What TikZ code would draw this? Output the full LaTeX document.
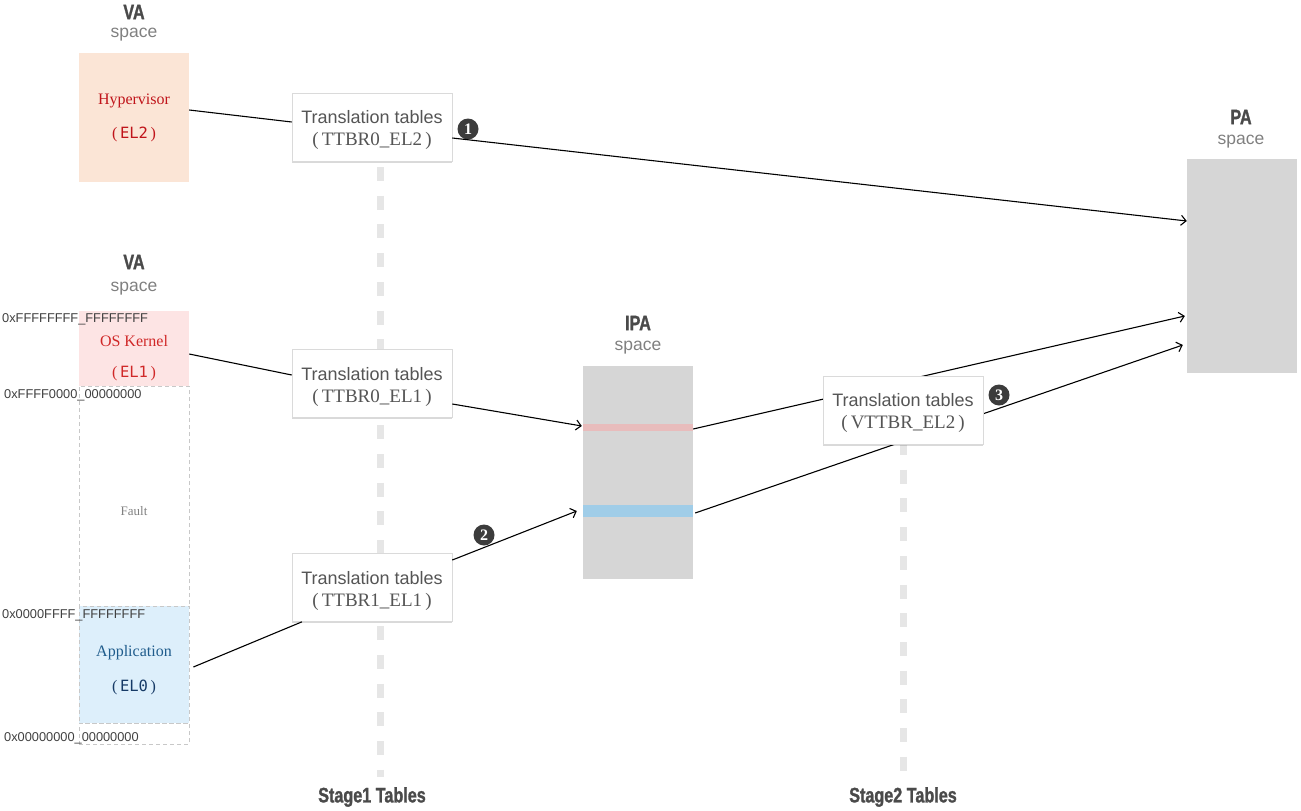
\documentclass[tikz,border=0pt]{standalone}
\usepackage{fontspec}
\setmainfont{Liberation Serif}
\setsansfont{Liberation Sans}
\setmonofont{DejaVu Sans Mono}
\newfontfamily\headfont[FakeStretch=0.77,BoldFeatures={FakeBold=1.3}]{Liberation Sans}
\usetikzlibrary{arrows.meta,shadows,backgrounds,calc}
\definecolor{headgray}{HTML}{4A4A4A}
\definecolor{spacegray}{HTML}{808080}
\definecolor{ttgray}{HTML}{555555}
\definecolor{peach}{HTML}{FBE5D6}
\definecolor{kernpink}{HTML}{FDE4E4}
\definecolor{appblue}{HTML}{DDEFFB}
\definecolor{memgray}{HTML}{D6D6D6}
\definecolor{bandpink}{HTML}{E8BCBC}
\definecolor{bandblue}{HTML}{A0CDE8}
\definecolor{hypred}{HTML}{C0141A}
\definecolor{kernred}{HTML}{D02828}
\definecolor{appbluetext}{HTML}{1F5C8C}
\definecolor{navy}{HTML}{163A66}
\definecolor{stagegray}{HTML}{E6E6E6}
\definecolor{dashgray}{HTML}{C8C8C8}
\definecolor{boxborder}{HTML}{DADADA}
\definecolor{addrgray}{HTML}{404040}
\definecolor{numgray}{HTML}{3C3C3C}
\begin{document}
\begin{tikzpicture}[x=1pt,y=-1pt,
  heading/.style={font=\headfont\bfseries\fontsize{21}{21}\selectfont, text=headgray, inner sep=0},
  spacelbl/.style={font=\sffamily\fontsize{17.5}{18}\selectfont, text=spacegray, inner sep=0},
  region/.style={minimum width=110pt, inner sep=0, draw=none},
  dashedregion/.style={region, draw=dashgray, line width=0.8pt, dash pattern=on 4pt off 3pt},
  lbl/.style={font=\rmfamily\fontsize{16}{18}\selectfont, inner sep=0},
  ellbl/.style={font=\rmfamily\fontsize{16}{18}\selectfont, inner sep=0},
  addr/.style={font=\sffamily\fontsize{12.8}{14}\selectfont, text=addrgray, inner sep=0, anchor=west},
  ttbox/.style={draw=boxborder, fill=white, line width=0.6pt, minimum width=160pt,
     minimum height=68pt, inner sep=0,
     drop shadow={shadow xshift=0.3pt, shadow yshift=-1.5pt, opacity=0.15, fill=black}},
  tttext/.style={inner sep=0, align=center, text=ttgray, font=\fontsize{18}{22}\selectfont},
  stageline/.style={draw=stagegray, line width=7pt, dash pattern=on 14pt off 14.7pt},
  link/.style={draw=black, line width=1.1pt},
  arr/.style={link, -{Straight Barb[length=5pt,width=10pt]}},
  numc/.style={circle, fill=numgray, text=white, inner sep=0, minimum size=21pt,
     font=\rmfamily\bfseries\fontsize{16}{16}\selectfont}
]
\useasboundingbox (0,0) rectangle (1301,811);

% ---------- VA space (EL2) ----------
\node[heading] (va1) at (134,12) {VA};
\node[spacelbl] (va1s) at (134,35) {space};
\node[region, fill=peach, minimum height=129pt] (hyp) at (134,117.5) {};
\node[lbl, text=hypred] (hyplbl) at (134,101) {Hypervisor};
\node[ellbl, text=hypred] (hypel) at (134,134) {(\,{\ttfamily\fontsize{15.5}{18}\selectfont EL2}\,)};

% ---------- VA space (EL1/EL0) ----------
\node[heading] (va2) at (134,262) {VA};
\node[spacelbl] (va2s) at (134,289) {space};
\node[dashedregion, minimum height=220pt] (fault) at (134,496) {};
\node[region, fill=kernpink, minimum height=75pt] (kern) at (134,348.5) {};
\node[dashedregion, fill=appblue, minimum height=117pt] (app) at (134,664.5) {};
\node[dashedregion, minimum height=21pt] (bottom) at (134,733.5) {};
\node[lbl, text=kernred] (kernlbl) at (134,341) {OS Kernel};
\node[ellbl, text=kernred] (kernel) at (134,374) {(\,{\ttfamily\fontsize{15.5}{18}\selectfont EL1}\,)};
\node[lbl, text=spacegray, font=\rmfamily\fontsize{13}{15}\selectfont] (faultlbl) at (134,511) {Fault};
\node[lbl, text=appbluetext] (applbl) at (134,653) {Application};
\node[ellbl, text=navy] (appel) at (134,687) {(\,{\ttfamily\fontsize{15.5}{18}\selectfont EL0}\,)};

\node[addr] (a1) at (2,319) {0xFFFFFFFF\_FFFFFFFF};
\node[addr] (a2) at (4,395) {0xFFFF0000\_00000000};
\node[addr] (a3) at (2,615) {0x0000FFFF\_FFFFFFFF};
\node[addr] (a4) at (4,738) {0x00000000\_00000000};

% ---------- IPA space ----------
\node[heading] (ipa) at (638,323) {IPA};
\node[spacelbl] (ipas) at (638,348) {space};
\node[region, fill=memgray, minimum height=213pt] (ipabox) at (638,472.5) {};
\node[region, fill=bandpink, minimum height=7pt] (pink) at (638,427.5) {};
\node[region, fill=bandblue, minimum height=12pt] (blue) at (638,511) {};

% ---------- PA space ----------
\node[heading] (pah) at (1241,117) {PA};
\node[spacelbl] (pas) at (1241,142) {space};
\node[region, fill=memgray, minimum height=214pt] (pa) at (1242,266) {};

% ---------- translation tables ----------
\node[ttbox] (tt0) at (372,127) {};
\node[ttbox] (tt1) at (372,383.5) {};
\node[ttbox] (tt2) at (372,587.5) {};
\node[ttbox] (vt) at (903,410) {};
\node[tttext] (tt0t) at (372,130) {{\sffamily Translation tables}\\{\rmfamily\fontsize{19}{22}\selectfont (\,TTBR0\_EL2\,)}};
\node[tttext] (tt1t) at (372,386.5) {{\sffamily Translation tables}\\{\rmfamily\fontsize{19}{22}\selectfont (\,TTBR0\_EL1\,)}};
\node[tttext] (tt2t) at (372,590.5) {{\sffamily Translation tables}\\{\rmfamily\fontsize{19}{22}\selectfont (\,TTBR1\_EL1\,)}};
\node[tttext] (vtt) at (903,413) {{\sffamily Translation tables}\\{\rmfamily\fontsize{19}{22}\selectfont (\,VTTBR\_EL2\,)}};

% ---------- stage labels ----------
\node[heading] (st1) at (372,797) {Stage1 Tables};
\node[heading] (st2) at (903,797) {Stage2 Tables};
\coordinate (s1top) at (380,167);
\coordinate (s1bot) at (380,777);
\coordinate (s2top) at (903.5,441);
\coordinate (s2bot) at (903.5,771);

% ---------- numbers ----------
\node[numc] (n1) at (468,129) {1};
\node[numc] (n2) at (484,535) {2};
\node[numc] (n3) at (999,395) {3};

% ---------- background: stage lines and stage-2 links ----------
\begin{scope}[on background layer]
  \draw[stageline] (s1top) -- (s1bot);
  \draw[stageline] (s2top) -- (s2bot);
  \draw[arr] ([yshift=-1.5pt]pink.east) -- ([xshift=-2pt,yshift=-50pt]pa.west);
  \draw[arr] ([xshift=2pt,yshift=-2pt]blue.east) -- ([xshift=-4pt,yshift=-79pt]pa.west);
\end{scope}

% ---------- stage-1 links ----------
\draw[link] ([yshift=7.5pt]hyp.east) -- ([yshift=5pt]tt0.west);
\draw[arr] ([yshift=-11pt]tt0.east) -- ([yshift=45pt]pa.west);
\draw[link] ([yshift=-5.5pt]kern.east) -- ([yshift=8.5pt]tt1.west);
\draw[arr] ([yshift=-20.5pt]tt1.east) -- ([xshift=-1pt,yshift=1.5pt]pink.west);
\draw[link] ([xshift=4pt,yshift=-2.5pt]app.east) -- ([xshift=-70pt]tt2.south);
\draw[arr] ([yshift=27.5pt]tt2.east) -- ([xshift=-6pt]blue.west);
\end{tikzpicture}
\end{document}
